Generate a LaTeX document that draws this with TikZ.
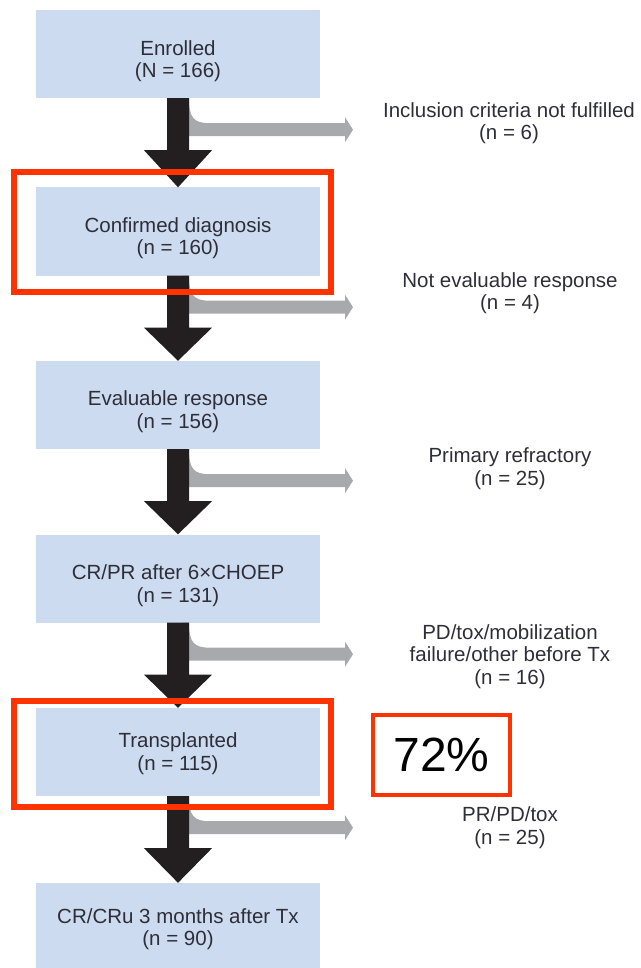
\documentclass[tikz,border=0pt]{standalone}
\usepackage{fontspec}
\setmainfont{Liberation Sans}
\usetikzlibrary{calc}
\definecolor{boxblue}{HTML}{CCDBF0}
\definecolor{arrowblack}{HTML}{231F20}
\definecolor{arrowgray}{HTML}{A7A9AC}
\definecolor{frame}{HTML}{FF3300}
\definecolor{txt}{HTML}{2E2E38}
\newcommand\flowstep[2]{%
  \fill[arrowgray] ($(#1.south)+(5,0)$) -- ($(#1.south)+(11,0)$)
    .. controls ($(#1.south)+(11,20)$) and ($(#1.south)+(16,25)$) .. ($(#1.south)+(32,25)$)
    -- ($(#1.south)+(167,25)$) -- ($(#1.south)+(167,19)$) -- ($(#1.south)+(175,31.5)$)
    -- ($(#1.south)+(167,44)$) -- ($(#1.south)+(167,38)$) -- ($(#1.south)+(5,38)$) -- cycle;
  \fill[arrowblack] ($(#1.south)+(-11,0)$) -- ($(#1.south)+(11,0)$) -- ($(#1.south)+(11,52)$)
    -- ($(#1.south)+(34,52)$) -- (#2.north) -- ($(#1.south)+(-34,52)$)
    -- ($(#1.south)+(-11,52)$) -- cycle;
}
\begin{document}
\begin{tikzpicture}[x=1pt,y=-1pt,
  box/.style={fill=boxblue, minimum width=284pt, minimum height=88pt, inner sep=0pt},
  btext/.style={align=center, text=txt, font=\fontsize{20.5}{22.5}\selectfont, inner sep=0pt},
  side/.style={align=center, text=txt, font=\fontsize{20.5}{22.5}\selectfont, inner sep=0pt},
  redframe/.style={draw=frame, line width=6pt}]
\useasboundingbox (0,0) rectangle (640,968);
\node[box] (b1) at (178,54) {};
\node[box] (b2) at (178,231.5) {};
\node[box] (b3) at (178,405) {};
\node[box] (b4) at (178,578.5) {};
\node[box] (b5) at (178,752) {};
\node[box, minimum height=85pt] (b6) at (178,925.5) {};
\node[btext] (t1) at (178,61) {Enrolled\\(N = 166)};
\node[btext] (t2) at (178,238) {Confirmed diagnosis\\(n = 160)};
\node[btext] (t3) at (178,411.5) {Evaluable response\\(n = 156)};
\node[btext] (t4) at (178,585.5) {CR/PR after 6×CHOEP\\(n = 131)};
\node[btext] (t5) at (178,753.5) {Transplanted\\(n = 115)};
\node[btext] (t6) at (178,929) {CR/CRu 3 months after Tx\\(n = 90)};
\flowstep{b1}{b2}
\flowstep{b2}{b3}
\flowstep{b3}{b4}
\flowstep{b4}{b5}
\flowstep{b5}{b6}
\node[side] (s1) at (509,123) {Inclusion criteria not fulfilled\\(n = 6)};
\node[side] (s2) at (510,293) {Not evaluable response\\(n = 4)};
\node[side] (s3) at (510,468.5) {Primary refractory\\(n = 25)};
\node[side] (s4) at (510,656.5) {PD/tox/mobilization\\failure/other before Tx\\(n = 16)};
\node[side] (s5) at (510,827.5) {PR/PD/tox\\(n = 25)};
\draw[redframe] (14,172) rectangle (331,292);
\draw[redframe] (14,701) rectangle (331,806.5);
\node[draw=frame, line width=4pt, minimum width=137pt, minimum height=80pt, inner sep=0pt,
  font=\fontsize{48}{50}\selectfont] (pct) at (441.5,755) {72\%};
\end{tikzpicture}
\end{document}
